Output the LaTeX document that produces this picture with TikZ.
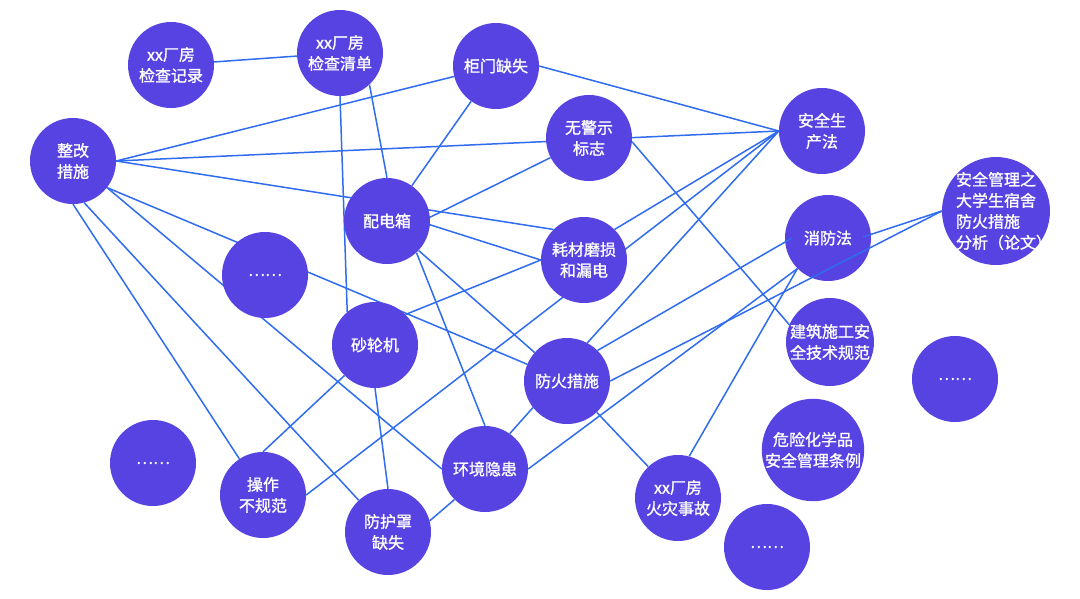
\documentclass[tikz,border=0pt]{standalone}
\usepackage{fontspec}
\setmainfont{Noto Sans CJK SC}
\newfontfamily\bubfont[FakeBold=1.2]{Noto Sans CJK SC}
\usetikzlibrary{calc}
\definecolor{nodefill}{RGB}{87,67,225}
\definecolor{edgeblue}{RGB}{47,108,240}
\pgfdeclarelayer{bg}
\pgfsetlayers{bg,main}
\begin{document}
\begin{tikzpicture}[x=1pt,y=-1pt,
  bub/.style={circle, fill=nodefill, text=white, minimum size=86pt, inner sep=0pt,
    align=center, font=\bubfont\fontsize{16}{21}\selectfont},
  link/.style={draw=edgeblue, line width=1.5pt}]
\useasboundingbox (0,0) rectangle (1080,598);
% nodes
\node[bub] (zg) at (73,161) {整改\\措施};
\node[bub] (jl) at (171,65) {xx厂房\\检查记录};
\node[bub] (qd) at (340,53) {xx厂房\\检查清单};
\node[bub] (gm) at (496,66) {柜门缺失};
\node[bub] (wj) at (589,138) {无警示\\标志};
\node[bub] (aq) at (822,131) {安全生\\产法};
\node[bub, minimum size=108pt, inner sep=-8pt, text width=80pt, align=left] (ag) at (996,211)
  {安全管理之\\大学生宿舍\\防火措施\\\makebox[80pt][l]{分析（论文）}};
\node[bub] (pd) at (387,221) {配电箱};
\node[bub] (hc) at (584,260) {耗材磨损\\和漏电};
\node[bub] (d1) at (265,275) {……};
\node[bub] (xf) at (828,238) {消防法};
\node[bub] (sl) at (375,345) {砂轮机};
\node[bub] (pf) at (567,381) {防火措施};
\node[bub, minimum size=88pt] (jz) at (830,342) {建筑施工安\\全技术规范};
\node[bub] (d2) at (955,379) {……};
\node[bub] (d3) at (153,463) {……};
\node[bub] (cz) at (263,495) {操作\\不规范};
\node[bub] (hj) at (485,469) {环境隐患};
\node[bub] (fh) at (388,532) {防护罩\\缺失};
\node[bub] (hz) at (678,498) {xx厂房\\火灾事故};
\node[bub, minimum size=100pt] (wx) at (813,450) {危险化学品\\安全管理条例};
\node[bub] (d4) at (767,547) {……};
\coordinate (xfL) at ($(xf.center)+(-36pt,0pt)$);
\coordinate (xfR) at ($(xf.center)+(35pt,1pt)$);
% connectors behind the circles
\begin{pgfonlayer}{bg}
\fill[white] (0,0) rectangle (1080,598);
\draw[link] (jl) -- (qd);
\draw[link] (zg.east) -- (gm);
\draw[link] (zg.east) -- (aq.west);
\draw[link] (zg.east) -- (hc.135);
\draw[link] (zg.-38) -- (pf);
\draw[link] (zg.-38) -- (hj.west);
\draw[link] (zg.south) -- (cz);
\draw[link] (zg.-75) -- (fh);
\draw[link] (qd.south) -- (sl.130);
\draw[link] (qd.-47) -- (pd.north);
\draw[link] (gm) -- (pd);
\draw[link] (gm.east) -- (aq.west);
\draw[link] (wj.207) -- (pd.5);
\draw[link] (wj.-5) -- (jz.157);
\draw[link] (pd.-5) -- (hc.west);
\draw[link] (pd.-43) -- (pf);
\draw[link] (pd.-47) -- (hj.north);
\draw[link] (sl.45) -- (hc.west);
\draw[link] (hc.45) -- (aq.west);
\draw[link] (cz.east) -- (aq.west);
\draw[link] (cz.north) -- (sl.225);
\draw[link] (sl.south) -- (fh.north);
\draw[link] (fh.15) -- (hj.225);
\draw[link] (pf.62) -- (aq.west);
\draw[link] (pf) -- (hz);
\draw[link] (pf.218) -- (hj.55);
\draw[link] (hj.east) -- (xf.225);
\draw[link] (hz.75) -- (xf.225);
\end{pgfonlayer}
% connectors drawn over the circles
\draw[link] (pf.45) -- (xfL);
\draw[link] (pf.east) -- (ag.west);
\draw[link] (xfR) -- (ag.west);
\end{tikzpicture}
\end{document}
